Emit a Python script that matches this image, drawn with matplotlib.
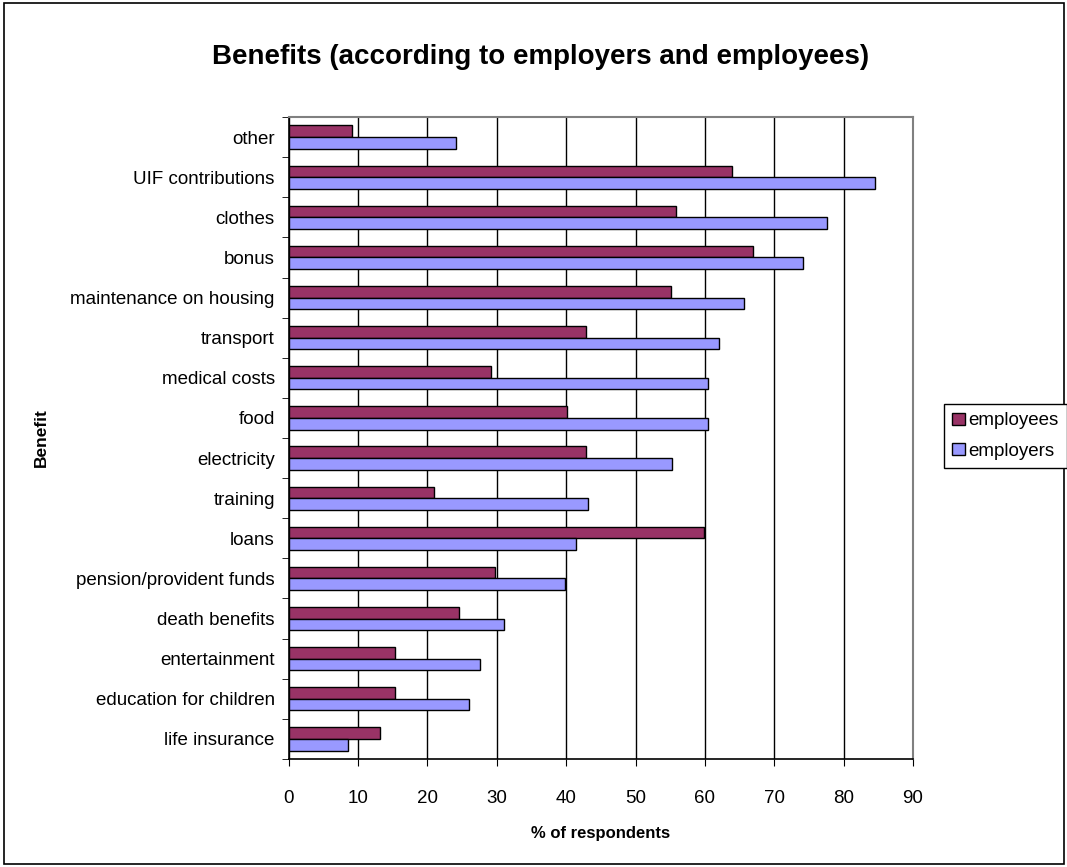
import matplotlib.pyplot as plt
import numpy as np

plt.rcParams["font.family"] = ["Liberation Sans", "DejaVu Sans"]

# categories listed bottom to top
benefits = [
    "life insurance", "education for children", "entertainment", "death benefits",
    "pension/provident funds", "loans", "training", "electricity", "food",
    "medical costs", "transport", "maintenance on housing", "bonus", "clothes",
    "UIF contributions", "other",
]
employees = [13.1, 15.3, 15.3, 24.5, 29.7, 59.9, 21.0, 42.8, 40.1,
             29.2, 42.8, 55.1, 66.9, 55.9, 63.9, 9.1]
employers = [8.6, 26.0, 27.6, 31.0, 39.8, 41.4, 43.1, 55.2, 60.4,
             60.4, 62.1, 65.6, 74.2, 77.6, 84.6, 24.1]

fig = plt.figure(figsize=(10.67, 8.67), dpi=100)
ax = fig.add_axes([0.2706, 0.1246, 0.585, 0.7404])

y = np.arange(len(benefits))
h = 0.29
ax.barh(y + h / 2, employees, height=h, color="#993366", edgecolor="black",
        linewidth=1.0, label="employees", zorder=3)
ax.barh(y - h / 2, employers, height=h, color="#9999FF", edgecolor="black",
        linewidth=1.0, label="employers", zorder=3)

ax.set_xlim(0, 90)
ax.set_ylim(-0.5, len(benefits) - 0.5)
ax.set_xticks(np.arange(0, 91, 10))
ax.tick_params(axis="x", labelsize=13.5, length=5, direction="out", pad=17)
ax.set_yticks(y)
ax.set_yticklabels(benefits, fontsize=13.5)
ax.tick_params(axis="y", which="major", length=0, pad=10)
ax.set_yticks(np.arange(-0.5, len(benefits), 1), minor=True)
ax.tick_params(axis="y", which="minor", length=5, direction="out")

ax.xaxis.grid(True, color="black", linewidth=1.0, zorder=0)
ax.set_axisbelow(True)
for side in ("top", "right"):
    ax.spines[side].set_color("#808080")
    ax.spines[side].set_linewidth(1.5)
for side in ("left", "bottom"):
    ax.spines[side].set_color("black")
    ax.spines[side].set_linewidth(1.2)

ax.set_xlabel("% of respondents", fontsize=12, fontweight="bold", labelpad=14)
ax.set_ylabel("Benefit", fontsize=12.5, fontweight="bold")
ax.yaxis.set_label_coords(-0.385, 0.5, transform=ax.transAxes)

fig.suptitle("Benefits (according to employers and employees)", x=0.507, y=0.934,
             va="center", fontsize=20, fontweight="bold")

leg = fig.legend(loc="upper left", bbox_to_anchor=(0.8847, 0.534), fontsize=13.5,
                 frameon=True, fancybox=False, edgecolor="black", framealpha=1,
                 handlelength=0.65, handleheight=0.65, handletextpad=0.2,
                 borderpad=0.45, labelspacing=0.7, borderaxespad=0)
leg.get_frame().set_linewidth(1.0)

fig.patches.append(plt.Rectangle((0.004, 0.004), 0.993, 0.992, transform=fig.transFigure,
                                 fill=False, edgecolor="black", linewidth=1.2))

fig.savefig("out.png", dpi=100)
